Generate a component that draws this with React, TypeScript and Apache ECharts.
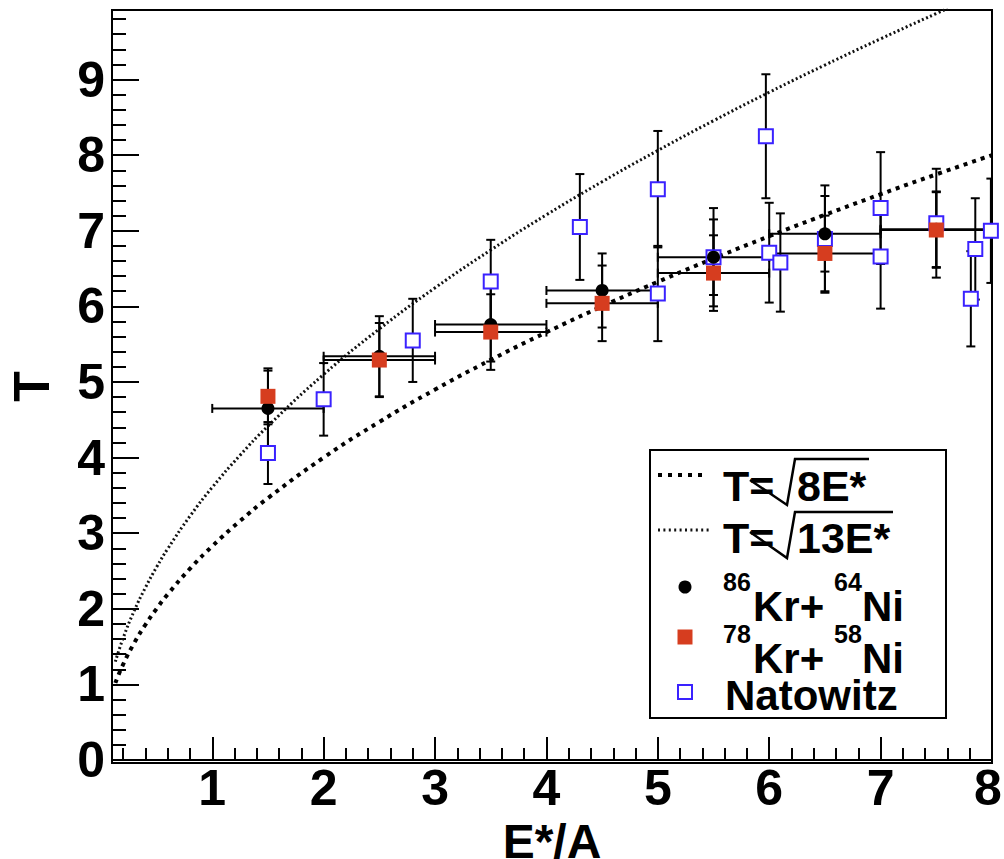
import React, { useEffect, useRef } from "react";
import * as echarts from "echarts";

// ---- axis ticks ----
const xMajor = [1, 2, 3, 4, 5, 6, 7, 8];
const yMajor = [0, 1, 2, 3, 4, 5, 6, 7, 8, 9];
const xMinor: number[] = [];
for (let i = 1; i <= 40; i++) xMinor.push(Math.round(i * 2) / 10);
const yMinor: number[] = [];
for (let i = 1; i <= 49; i++) yMinor.push(Math.round(i * 2) / 10);

// ---- 86Kr+64Ni (black circles) ----
const krX = [1.5, 2.5, 3.5, 4.5, 5.5, 6.5, 7.5];
const kr86Y = [4.65, 5.34, 5.76, 6.21, 6.65, 6.96, 7.02];
const kr86YErr = [0.5, 0.53, 0.49, 0.49, 0.5, 0.5, 0.5];
const kr86XErr = [0.5, 0.5, 0.5, 0.5, 0.5, 0.5, 0.5];

// ---- 78Kr+58Ni (red squares) ----
const kr78Y = [4.81, 5.29, 5.66, 6.04, 6.44, 6.7, 7.01];
const kr78YErr = [0.37, 0.49, 0.5, 0.5, 0.5, 0.5, 0.5];
const kr78XErr = [0, 0.5, 0.5, 0.5, 0.5, 0.5, 0.5];

// ---- Natowitz (open blue squares) ----
const natX = [1.5, 2.0, 2.8, 3.5, 4.3, 5.0, 5.0, 5.5, 5.97, 6.0, 6.1, 6.5, 7.0, 7.0, 7.5, 7.81, 7.85, 7.99];
const natY = [4.06, 4.77, 5.55, 6.33, 7.05, 7.55, 6.17, 6.65, 8.25, 6.71, 6.58, 6.89, 7.3, 6.66, 7.1, 6.1, 6.76, 7.0];
const natYErr = [0.41, 0.48, 0.55, 0.55, 0.7, 0.77, 0.63, 0.65, 0.82, 0.66, 0.65, 0.71, 0.74, 0.69, 0.72, 0.63, 0.67, 0.69];

// ---- curves ----
const curve8X = [0.13, 0.2, 0.3, 0.4, 0.5, 0.6, 0.8, 1, 1.25, 1.5, 2, 2.5, 3, 3.5, 4, 4.5, 5, 5.5, 6, 6.5, 7, 7.5, 8];
const curve8Y = [1.02, 1.265, 1.549, 1.789, 2.0, 2.191, 2.53, 2.828, 3.162, 3.464, 4.0, 4.472, 4.899, 5.292, 5.657, 6.0, 6.325, 6.633, 6.928, 7.211, 7.483, 7.746, 8.0];
const curve13X = [0.13, 0.2, 0.3, 0.4, 0.5, 0.6, 0.8, 1, 1.25, 1.5, 2, 2.5, 3, 3.5, 4, 4.5, 5, 5.5, 6, 6.5, 7, 7.5, 7.6];
const curve13Y = [1.3, 1.612, 1.975, 2.28, 2.55, 2.793, 3.225, 3.606, 4.031, 4.416, 5.099, 5.701, 6.245, 6.745, 7.211, 7.649, 8.062, 8.456, 8.832, 9.192, 9.539, 9.874, 9.94];

const X_MIN = 0.1;
const X_MAX = 8;
const Y_MIN = -0.04;
const Y_MAX = 9.92;

const FONT = "'Liberation Sans', Arial, Helvetica, sans-serif";
const RED = "#d63d1f";
const BLUE = "#3a22ff";

function errorBars(xs: number[], ys: number[], xe: number[], ye: number[], z: number) {
  return {
    type: "custom",
    z,
    clip: true,
    silent: true,
    encode: { x: 0, y: 1 },
    data: xs.map((x, i) => [x, ys[i], xe[i], ye[i]]),
    renderItem: (_p: any, api: any) => {
      const x = api.value(0);
      const y = api.value(1);
      const ex = api.value(2);
      const ey = api.value(3);
      const style = { stroke: "#000", lineWidth: 2 };
      const cap = 4.5;
      const children: any[] = [];
      if (ey > 0) {
        const t = api.coord([x, y + ey]);
        const b = api.coord([x, y - ey]);
        children.push({ type: "line", shape: { x1: t[0], y1: t[1], x2: b[0], y2: b[1] }, style });
        children.push({ type: "line", shape: { x1: t[0] - cap, y1: t[1], x2: t[0] + cap, y2: t[1] }, style });
        children.push({ type: "line", shape: { x1: b[0] - cap, y1: b[1], x2: b[0] + cap, y2: b[1] }, style });
      }
      if (ex > 0) {
        const l = api.coord([x - ex, y]);
        const r = api.coord([x + ex, y]);
        children.push({ type: "line", shape: { x1: l[0], y1: l[1], x2: r[0], y2: r[1] }, style });
        children.push({ type: "line", shape: { x1: l[0], y1: l[1] - cap, x2: l[0], y2: l[1] + cap }, style });
        children.push({ type: "line", shape: { x1: r[0], y1: r[1] - cap, x2: r[0], y2: r[1] + cap }, style });
      }
      return { type: "group", children };
    },
  };
}

const txt = (text: string, x: number, y: number, size: number) => ({
  type: "text",
  x,
  y,
  z: 100,
  style: {
    text,
    fill: "#000",
    font: `bold ${size}px ${FONT}`,
    textAlign: "left",
    textVerticalAlign: "middle",
  },
});

export default function App() {
  const ref = useRef<HTMLDivElement>(null);
  useEffect(() => {
    if (!ref.current) return;
    const chart = echarts.init(ref.current, undefined, { renderer: "svg" });
    const tickStyle = { color: "#000", width: 2 };
    const labelFont = { fontFamily: FONT, fontWeight: "bold", fontSize: 50, color: "#000" };
    const option: any = {
      animation: false,
      backgroundColor: "#fff",
      grid: {
        left: 112,
        top: 10,
        right: 12,
        bottom: 96,
        containLabel: false,
        outerBoundsMode: "none",
        show: true,
        borderColor: "#000",
        borderWidth: 2,
        backgroundColor: "transparent",
      },
      xAxis: [
        {
          type: "value",
          min: X_MIN,
          max: X_MAX,
          position: "bottom",
          name: "E*/A",
          nameLocation: "middle",
          nameGap: 50,
          nameTextStyle: { fontFamily: FONT, fontWeight: "bold", fontSize: 48, color: "#000" },
          axisLine: { show: true, lineStyle: tickStyle },
          splitLine: { show: false },
          axisTick: { show: true, inside: true, length: 23, customValues: xMajor, lineStyle: tickStyle },
          axisLabel: {
            customValues: xMajor,
            margin: 0,
            ...labelFont,
            formatter: (v: number) => (v === X_MAX ? `{e|${v}}` : String(v)),
            rich: { e: { ...labelFont, padding: [0, 8, 0, 0] } },
          },
        },
        {
          type: "value",
          min: X_MIN,
          max: X_MAX,
          position: "bottom",
          axisLine: { show: false },
          splitLine: { show: false },
          axisLabel: { show: false },
          axisTick: { show: true, inside: true, length: 12, customValues: xMinor, lineStyle: tickStyle },
        },
      ],
      yAxis: [
        {
          type: "value",
          min: Y_MIN,
          max: Y_MAX,
          position: "left",
          name: "T",
          nameLocation: "middle",
          nameGap: 55,
          nameRotate: 90,
          nameTextStyle: { fontFamily: FONT, fontWeight: "bold", fontSize: 50, color: "#000" },
          axisLine: { show: true, lineStyle: tickStyle },
          splitLine: { show: false },
          axisTick: { show: true, inside: true, length: 27, customValues: yMajor, lineStyle: tickStyle },
          axisLabel: {
            customValues: yMajor,
            margin: 7,
            padding: [18, 0, 0, 0],
            ...labelFont,
            formatter: (v: number) => String(v),
          },
        },
        {
          type: "value",
          min: Y_MIN,
          max: Y_MAX,
          position: "left",
          axisLine: { show: false },
          splitLine: { show: false },
          axisLabel: { show: false },
          axisTick: { show: true, inside: true, length: 14, customValues: yMinor, lineStyle: tickStyle },
        },
      ],
      series: [
        {
          type: "line",
          name: "T=√8E*",
          z: 1,
          smooth: true,
          showSymbol: false,
          clip: true,
          silent: true,
          data: curve8X.map((x, i) => [x, curve8Y[i]]),
          lineStyle: { color: "#000", width: 4, type: [4, 5], cap: "butt" },
        },
        {
          type: "line",
          name: "T=√13E*",
          z: 1,
          smooth: true,
          showSymbol: false,
          clip: true,
          silent: true,
          data: curve13X.map((x, i) => [x, curve13Y[i]]),
          lineStyle: { color: "#111", width: 3, type: [2, 2.5], cap: "butt" },
        },
        errorBars(krX, kr86Y, kr86XErr, kr86YErr, 2),
        errorBars(krX, kr78Y, kr78XErr, kr78YErr, 2),
        errorBars(natX, natY, natX.map(() => 0), natYErr, 3),
        {
          type: "scatter",
          name: "Natowitz",
          z: 4,
          symbol: "rect",
          symbolSize: 14,
          data: natX.map((x, i) => [x, natY[i]]),
          itemStyle: { color: "#fff", borderColor: BLUE, borderWidth: 2, opacity: 1 },
        },
        {
          type: "scatter",
          name: "86Kr+64Ni",
          z: 5,
          symbol: "circle",
          symbolSize: 13,
          data: krX.map((x, i) => [x, kr86Y[i]]),
          itemStyle: { color: "#000", opacity: 1 },
        },
        {
          type: "scatter",
          name: "78Kr+58Ni",
          z: 6,
          symbol: "rect",
          symbolSize: 15,
          data: krX.map((x, i) => [x, kr78Y[i]]),
          itemStyle: { color: RED, opacity: 1 },
        },
      ],
      graphic: {
        elements: [
          {
            type: "rect",
            z: 90,
            shape: { x: 650, y: 450, width: 296, height: 268 },
            style: { fill: "#fff", stroke: "#000", lineWidth: 2 },
          },
          {
            type: "line",
            z: 100,
            shape: { x1: 658, y1: 475, x2: 708, y2: 475 },
            style: { stroke: "#000", lineWidth: 4, lineDash: [4, 6] },
          },
          {
            type: "line",
            z: 100,
            shape: { x1: 658, y1: 530, x2: 712, y2: 530 },
            style: { stroke: "#111", lineWidth: 3, lineDash: [2, 3.4] },
          },
          txt("T=", 723, 486, 43),
          {
            type: "polyline",
            z: 101,
            shape: { points: [[750, 480], [787, 505], [795, 459], [869, 459]] },
            style: { stroke: "#000", lineWidth: 2.5, fill: null },
          },
          txt("8E*", 797, 486, 43),
          txt("T=", 723, 538, 43),
          {
            type: "polyline",
            z: 101,
            shape: { points: [[750, 532], [787, 558], [795, 512], [893, 512]] },
            style: { stroke: "#000", lineWidth: 2.5, fill: null },
          },
          txt("13E*", 797, 538, 43),
          {
            type: "circle",
            z: 100,
            shape: { cx: 685, cy: 587, r: 6.5 },
            style: { fill: "#000" },
          },
          txt("86", 723, 582, 25),
          txt("Kr+", 753, 606, 42),
          txt("64", 834, 582, 25),
          txt("Ni", 862, 606, 42),
          {
            type: "rect",
            z: 100,
            shape: { x: 677.5, y: 629.5, width: 15, height: 15 },
            style: { fill: RED },
          },
          txt("78", 723, 634, 25),
          txt("Kr+", 753, 658, 42),
          txt("58", 834, 634, 25),
          txt("Ni", 862, 658, 42),
          {
            type: "rect",
            z: 100,
            shape: { x: 678, y: 685, width: 14, height: 14 },
            style: { fill: "#fff", stroke: BLUE, lineWidth: 2 },
          },
          txt("Natowitz", 725, 695, 42),
        ],
      },
    };
    chart.setOption(option);
    return () => chart.dispose();
  }, []);
  return (
    <div
      ref={ref}
      style={{ position: "fixed", left: 0, top: 0, width: 1004, height: 859, overflow: "hidden" }}
    />
  );
}
